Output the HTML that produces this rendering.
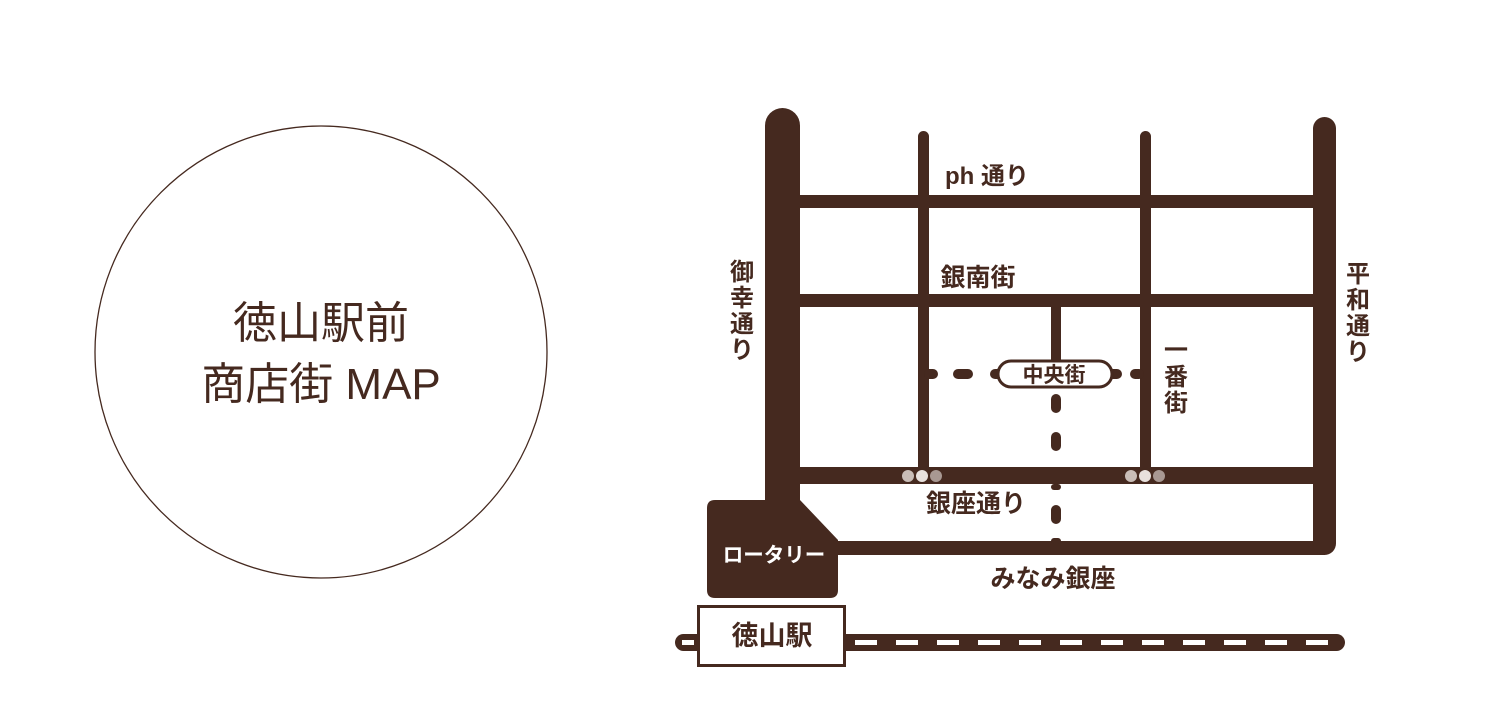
<!DOCTYPE html>
<html><head><meta charset="utf-8"><style>
html,body{margin:0;padding:0;background:#fff;}
svg{display:block}
text{font-family:"Liberation Sans","Noto Sans CJK JP",sans-serif;fill:#45291f;font-weight:bold}
</style></head><body>
<svg width="1500" height="727" viewBox="0 0 1500 727" xmlns="http://www.w3.org/2000/svg">
<circle cx="321" cy="352" r="226" fill="none" stroke="#45291f" stroke-width="1.3"/>
<text x="321" y="338" font-size="44" text-anchor="middle" style="font-weight:normal">徳山駅前</text>
<text x="321" y="399" font-size="44" text-anchor="middle" style="font-weight:normal">商店街 MAP</text>
<g fill="#45291f">
<rect x="765" y="108" width="35" height="420" rx="17.5"/>
<rect x="790" y="195" width="535" height="13"/>
<rect x="790" y="294" width="535" height="13"/>
<rect x="790" y="467" width="535" height="17"/>
<rect x="820" y="541" width="505" height="14"/>
<rect x="918" y="131" width="11" height="345" rx="5.5"/>
<rect x="1140" y="131" width="11" height="345" rx="5.5"/>
<rect x="1313" y="117" width="23" height="438" rx="11.5"/>
<rect x="1051" y="300" width="10" height="64"/>
<rect x="1051" y="394" width="10" height="19" rx="5"/>
<rect x="1051" y="432" width="10" height="19" rx="5"/>
<rect x="1051" y="484" width="10" height="6" rx="3"/>
<rect x="1051" y="505" width="10" height="19" rx="5"/>
<rect x="1051" y="538" width="10" height="6" rx="3"/>
<rect x="924" y="369" width="14" height="10" rx="5"/>
<rect x="953" y="369" width="20" height="10" rx="5"/>
<rect x="990" y="369" width="14" height="10" rx="5"/>
<rect x="1108" y="369" width="14" height="10" rx="5"/>
<rect x="1130" y="369" width="14" height="10" rx="5"/>
<path d="M715,500 L800,500 L838,540 L838,590 Q838,598 830,598 L715,598 Q707,598 707,590 L707,508 Q707,500 715,500 Z"/>
<rect x="675" y="634" width="670" height="17" rx="8.5"/>
</g>
<rect x="682" y="640" width="12" height="5" fill="#fff"/>
<rect x="698.5" y="606.5" width="146" height="59" fill="#fff" stroke="#45291f" stroke-width="3"/>
<text x="772" y="645" font-size="27" text-anchor="middle">徳山駅</text>
<text x="774" y="562" font-size="20.5" text-anchor="middle" style="fill:#fff">ロータリー</text>
<rect x="998" y="361" width="114" height="26" rx="13" fill="#fff" stroke="#45291f" stroke-width="3"/>
<text x="1054" y="382" font-size="21" text-anchor="middle">中央街</text>
<circle cx="908" cy="476" r="6" fill="#c9bdb7"/><circle cx="922" cy="476" r="6" fill="#e8e1dd"/><circle cx="936" cy="476" r="6" fill="#a89892"/>
<circle cx="1131" cy="476" r="6" fill="#c9bdb7"/><circle cx="1145" cy="476" r="6" fill="#e8e1dd"/><circle cx="1159" cy="476" r="6" fill="#a89892"/>
<text x="987" y="184" font-size="24" text-anchor="middle">ph 通り</text>
<text x="978" y="286" font-size="25" text-anchor="middle">銀南街</text>
<text x="976" y="512" font-size="25" text-anchor="middle">銀座通り</text>
<text x="1053" y="587" font-size="25" text-anchor="middle">みなみ銀座</text>
<g font-size="24" text-anchor="middle">
<text x="742" y="280">御</text><text x="742" y="306">幸</text><text x="742" y="332">通</text><text x="742" y="358">り</text>
<text x="1358" y="282">平</text><text x="1358" y="308">和</text><text x="1358" y="334">通</text><text x="1358" y="360">り</text>
<text x="1176" y="358">一</text><text x="1176" y="385">番</text><text x="1176" y="411">街</text>
</g>
<g fill="#fff">
<rect x="855" y="640" width="22" height="5"/><rect x="896" y="640" width="22" height="5"/><rect x="937" y="640" width="22" height="5"/>
<rect x="978" y="640" width="22" height="5"/><rect x="1019" y="640" width="22" height="5"/><rect x="1060" y="640" width="22" height="5"/>
<rect x="1101" y="640" width="22" height="5"/><rect x="1142" y="640" width="22" height="5"/><rect x="1183" y="640" width="22" height="5"/>
<rect x="1224" y="640" width="22" height="5"/><rect x="1265" y="640" width="22" height="5"/><rect x="1306" y="640" width="22" height="5"/>
</g>
</svg>
</body></html>
